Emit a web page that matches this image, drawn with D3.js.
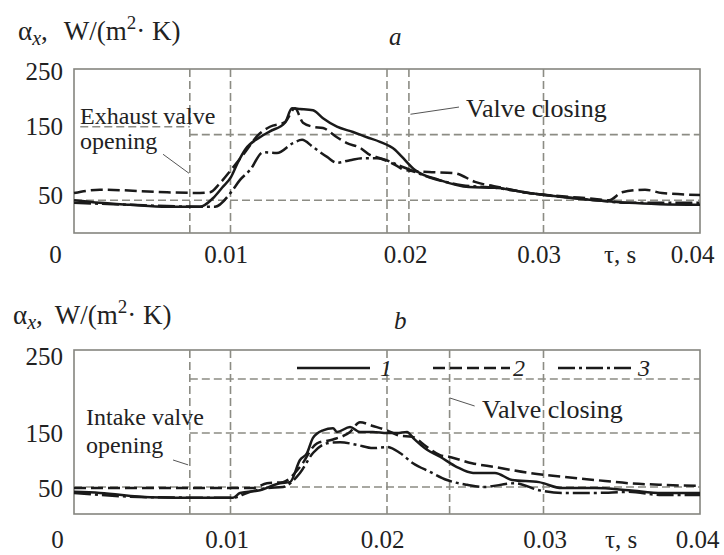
<!DOCTYPE html>
<html><head><meta charset="utf-8">
<script src="https://cdn.jsdelivr.net/npm/d3@7"></script>
<style>
body{margin:0;background:#fff;}
svg text{font-family:"Liberation Serif","Times New Roman",serif;fill:#222;}
</style></head>
<body><svg id="c" width="724" height="555"></svg>
<script>
// ---- data ----
const xTicks = [0, 0.01, 0.02, 0.03, 0.04];
const yTicks = [50, 150, 250];
const seriesNames = ["1", "2", "3"];

// panel a (exhaust)
const aSolid = [[0,50],[0.00166,46],[0.00358,43],[0.00594,40],[0.00805,40],[0.00888,53],[0.00946,69],[0.01003,85],[0.01048,108],[0.01093,127],[0.01188,146],[0.01252,155],[0.01348,168],[0.01393,190],[0.01444,189],[0.01527,187],[0.01591,175],[0.0168,162],[0.01783,154],[0.01872,146],[0.01955,139],[0.02051,127],[0.02096,116],[0.02179,96],[0.02332,81],[0.02524,70],[0.0269,69],[0.02907,61],[0.03118,55],[0.03329,50],[0.03546,46],[0.03744,44],[0.04,43]];
const aDashed = [[0,61],[0.00166,66],[0.00594,62],[0.00805,61],[0.00869,62],[0.00933,76],[0.01003,96],[0.01093,123],[0.01176,149],[0.01252,162],[0.01348,169],[0.01412,190],[0.01463,168],[0.01527,162],[0.01591,160],[0.0168,146],[0.01744,137],[0.01827,130],[0.01891,119],[0.01955,114],[0.02051,104],[0.02115,96],[0.02268,93],[0.02435,91],[0.02562,78],[0.02735,69],[0.02907,61],[0.03118,56],[0.03329,52],[0.03419,50],[0.03502,62],[0.03649,66],[0.03757,61],[0.04,58]];
const aDashDot = [[0,46],[0.00358,43],[0.00594,41],[0.00901,40],[0.01003,62],[0.01061,81],[0.01125,96],[0.01208,123],[0.01297,122],[0.01399,137],[0.01457,142],[0.01527,131],[0.01617,116],[0.0168,107],[0.01764,111],[0.01847,114],[0.01936,114],[0.02096,101],[0.02268,85],[0.02479,73],[0.0269,69],[0.02907,61],[0.03118,55],[0.03329,50],[0.03546,46],[0.04,46]];

// panel b (intake)
const bSolid = [[0,41],[0.00166,39],[0.00486,31],[0.00805,30],[0.01016,30],[0.01061,39],[0.01188,44],[0.01316,57],[0.0138,59],[0.01444,100],[0.01489,113],[0.01527,141],[0.01591,155],[0.01655,159],[0.0168,152],[0.01764,161],[0.01827,152],[0.0191,152],[0.02,150],[0.02064,150],[0.02128,152],[0.02166,141],[0.02256,119],[0.02339,106],[0.02447,87],[0.0255,76],[0.0269,76],[0.02799,63],[0.02971,59],[0.03118,48],[0.03329,48],[0.03546,44],[0.03757,39],[0.04,39]];
const bDashed = [[0,48],[0.00486,48],[0.01016,48],[0.01144,48],[0.01233,57],[0.01335,59],[0.01444,87],[0.01553,131],[0.01655,138],[0.01764,152],[0.01827,170],[0.0191,163],[0.02,155],[0.02083,145],[0.0216,143],[0.02256,124],[0.02339,109],[0.02396,106],[0.02543,94],[0.0269,87],[0.02907,76],[0.03118,69],[0.03329,63],[0.03546,57],[0.03757,54],[0.04,52]];
const bDashDot = [[0,39],[0.00486,31],[0.01016,30],[0.01105,39],[0.01233,48],[0.01335,50],[0.01444,76],[0.01527,113],[0.01617,131],[0.017,133],[0.01808,128],[0.0191,122],[0.02,124],[0.02083,113],[0.02166,94],[0.02275,78],[0.02383,63],[0.02511,54],[0.02613,50],[0.02818,57],[0.02971,44],[0.03118,39],[0.03329,39],[0.03546,41],[0.03757,35],[0.04,35]];

// reference lines
const aVLines = [0.0074, 0.01, 0.02, 0.0214, 0.03];
const aHLines = [[150, 0.0074, 0.04], [50, 0, 0.04], [162, 0.0004, 0.0074]];
const bVLines = [0.0074, 0.01, 0.02, 0.024, 0.03];
const bHLines = [[250, 0.0074, 0.04], [150, 0.0074, 0.04], [50, 0, 0.04]];

// ---- layout ----
const svg = d3.select("#c");
const L = 74, R = 700;
const x = d3.scaleLinear([0, 0.04], [L, R]);
const styles = [
  {dash: null}, {dash: "12,5"}, {dash: "17,4,3,4"}
];
const gridCol = "#8c8c84", lineCol = "#1a1a1a";

function panel(cfg) {
  const y = d3.scaleLinear([0, 250], [cfg.bottom, cfg.y250]);
  const g = svg.append("g");
  g.append("rect").attr("x", L).attr("y", cfg.top).attr("width", R - L).attr("height", cfg.bottom - cfg.top)
    .attr("fill", "none").attr("stroke", "#85857f").attr("stroke-width", 1.6);
  g.selectAll(".vl").data(cfg.vlines).join("line")
    .attr("x1", d => x(d)).attr("x2", d => x(d)).attr("y1", cfg.top).attr("y2", cfg.bottom)
    .attr("stroke", gridCol).attr("stroke-width", 1.6).attr("stroke-dasharray", "8,4");
  g.selectAll(".hl").data(cfg.hlines).join("line")
    .attr("x1", d => x(d[1])).attr("x2", d => x(d[2])).attr("y1", d => y(d[0])).attr("y2", d => y(d[0]))
    .attr("stroke", gridCol).attr("stroke-width", 1.6).attr("stroke-dasharray", "8,4");
  const line = d3.line().x(d => x(d[0])).y(d => y(d[1])).curve(d3.curveMonotoneX);
  cfg.series.forEach((s, i) => {
    g.append("path").attr("d", line(s)).attr("fill", "none").attr("stroke", lineCol)
      .attr("stroke-width", 2.5).attr("stroke-linejoin", "round")
      .attr("stroke-dasharray", styles[i].dash);
  });
  const ya = g.append("g").attr("transform", `translate(${L},0)`)
    .call(d3.axisLeft(y).tickValues(yTicks).tickSize(0).tickPadding(11));
  ya.select(".domain").remove();
  ya.selectAll("text").style("font-size", "25px").attr("fill", "#222")
    .attr("dy", d => (cfg.yOff[d] + 8) + "px");
  const xa = g.append("g").attr("transform", `translate(0,${cfg.bottom})`)
    .call(d3.axisBottom(x).tickValues(xTicks).tickSize(0).tickFormat(d => d === 0 ? "0" : d.toFixed(2)));
  xa.select(".domain").remove();
  xa.selectAll("text").style("font-size", "25px").attr("fill", "#222")
    .attr("y", cfg.xLabY).attr("dy", 0)
    .attr("x", (d, i) => cfg.xOff[i]);
  g.append("text").attr("x", cfg.tauX).attr("y", cfg.bottom + cfg.xLabY).style("font-size", "25px").text("τ, s");
  const t = g.append("text").attr("x", cfg.titleX).attr("y", cfg.titleY).style("font-size", "27px");
  t.append("tspan").text("α");
  t.append("tspan").attr("font-style", "italic").attr("dy", 5).style("font-size", "20px").text("x");
  t.append("tspan").attr("dy", -5).text(",");
  t.append("tspan").attr("dx", cfg.titleGap).text("W/(m");
  t.append("tspan").attr("dy", -11).style("font-size", "19px").text("2");
  t.append("tspan").attr("dy", 11).text("· K)");
  g.append("text").attr("x", cfg.letterX).attr("y", cfg.letterY).attr("font-style", "italic")
    .style("font-size", "25px").text(cfg.letter);
  return {g, y};
}

const pa = panel({
  top: 69, bottom: 233, y250: 69, vlines: aVLines, hlines: aHLines,
  series: [aSolid, aDashed, aDashDot],
  yOff: {250: 2, 150: -8, 50: -5}, xOff: [-19, -5, 18, -5, -8], xLabY: 30, tauX: 604,
  titleX: 18, titleY: 40, titleGap: 16, letter: "a", letterX: 389, letterY: 45
});
const pb = panel({
  top: 350, bottom: 514, y250: 379, vlines: bVLines, hlines: bHLines,
  series: [bSolid, bDashed, bDashDot],
  yOff: {250: -23, 150: 0, 50: 1}, xOff: [-17, -4, -5, 1, -3], xLabY: 34, tauX: 605,
  titleX: 13, titleY: 324, titleGap: 12, letter: "b", letterX: 394, letterY: 329
});

const ga = pa.g, ya = pa.y;
ga.append("text").attr("x", 80).attr("y", 124).style("font-size", "24px").text("Exhaust valve");
ga.append("text").attr("x", 80).attr("y", 149).style("font-size", "24px").text("opening");
ga.append("line").attr("x1", x(0.00569)).attr("y1", ya(120)).attr("x2", x(0.00735)).attr("y2", ya(91))
  .attr("stroke", "#555").attr("stroke-width", 1);
ga.append("text").attr("x", 466).attr("y", 117).style("font-size", "26px").text("Valve closing");
ga.append("line").attr("x1", x(0.0215)).attr("y1", ya(181)).attr("x2", x(0.0246)).attr("y2", ya(192))
  .attr("stroke", "#555").attr("stroke-width", 1);

const gb = pb.g, yb = pb.y;
gb.append("text").attr("x", 86).attr("y", 425).style("font-size", "24px").text("Intake valve");
gb.append("text").attr("x", 86).attr("y", 453).style("font-size", "24px").text("opening");
gb.append("line").attr("x1", x(0.00633)).attr("y1", yb(100)).attr("x2", x(0.00729)).attr("y2", yb(91))
  .attr("stroke", "#555").attr("stroke-width", 1);
gb.append("text").attr("x", 482).attr("y", 418).style("font-size", "26px").text("Valve closing");
gb.append("line").attr("x1", x(0.024)).attr("y1", yb(215)).attr("x2", x(0.0256)).attr("y2", yb(200))
  .attr("stroke", "#555").attr("stroke-width", 1);

const leg = [[297, 370, 380], [433, 510, 513], [558, 633, 638]];
seriesNames.forEach((n, i) => {
  gb.append("line").attr("x1", leg[i][0]).attr("x2", leg[i][1]).attr("y1", 368).attr("y2", 368)
    .attr("stroke", lineCol).attr("stroke-width", 2.5).attr("stroke-dasharray", styles[i].dash);
  gb.append("text").attr("x", leg[i][2]).attr("y", 376).attr("font-style", "italic")
    .style("font-size", "24px").text(n);
});
</script></body></html>
